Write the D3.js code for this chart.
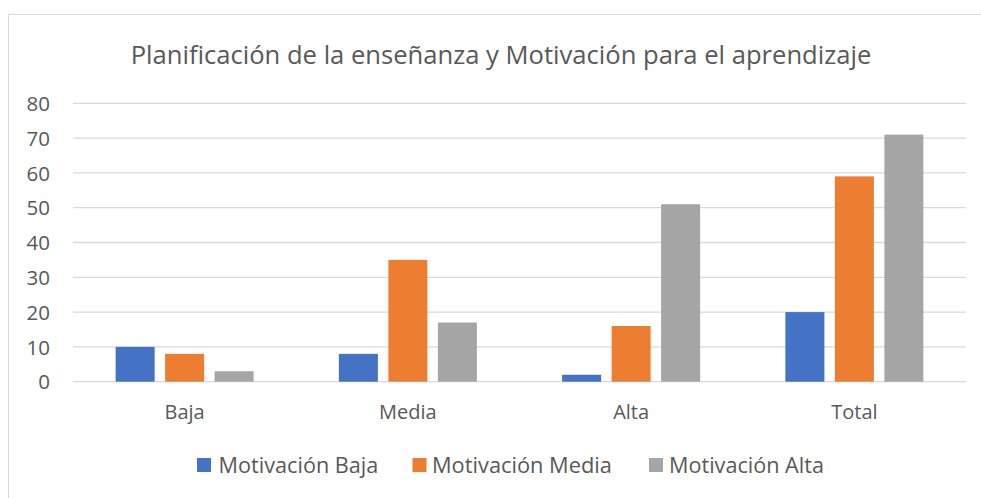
<!DOCTYPE html>
<html><head><meta charset="utf-8">
<script src="https://cdn.jsdelivr.net/npm/d3@7"></script>
<style>html,body{margin:0;padding:0;background:#fff;}svg{display:block;}</style>
</head><body>
<script>
const title = "Planificación de la enseñanza y Motivación para el aprendizaje";
const categories = ["Baja", "Media", "Alta", "Total"];
const seriesNames = ["Motivación Baja", "Motivación Media", "Motivación Alta"];
const motivacionBaja  = [10, 8, 2, 20];
const motivacionMedia = [8, 35, 16, 59];
const motivacionAlta  = [3, 17, 51, 71];
const yTicks = [0, 10, 20, 30, 40, 50, 60, 70, 80];
const colors = ["#4472C4", "#ED7D31", "#A5A5A5"];

const seriesValues = [motivacionBaja, motivacionMedia, motivacionAlta];
const W = 981, H = 498;
const FONT = "'Open Sans', 'Noto Sans', sans-serif";
const TXT = "#595959";

const svg = d3.select("body").append("svg").attr("width", W).attr("height", H);
svg.append("rect").attr("x", 8.5).attr("y", 14.5).attr("width", 1000).attr("height", 600)
  .attr("fill", "#fff").attr("stroke", "#d9d9d9").attr("stroke-width", 1);

const x0 = d3.scaleBand().domain(categories).range([73, 966]).paddingInner(0).paddingOuter(0);
const x1 = d3.scaleBand().domain(seriesNames).range([0, x0.bandwidth()]).paddingInner(0.212).paddingOuter(0.861);
const y = d3.scaleLinear().domain([0, 80]).range([381.7, 103.3]);

function fit(sel, target, base) {
  sel.attr("font-size", base);
  const w = sel.node().getComputedTextLength();
  sel.attr("font-size", base * target / w);
}

svg.append("g").selectAll("line").data(yTicks).join("line")
  .attr("x1", 73).attr("x2", 966)
  .attr("y1", d => y(d)).attr("y2", d => y(d))
  .attr("stroke", "#d9d9d9").attr("stroke-width", 1.3);

const yAxis = svg.append("g").attr("transform", "translate(50,0)")
  .call(d3.axisLeft(y).tickValues(yTicks).tickSize(0).tickPadding(0));
yAxis.select(".domain").remove();
yAxis.selectAll("text").attr("font-family", FONT).attr("font-size", 20.5).attr("fill", TXT).attr("dy", "0.35em");

categories.forEach((c, ci) => {
  seriesNames.forEach((s, si) => {
    const v = seriesValues[si][ci];
    svg.append("rect")
      .attr("x", x0(c) + x1(s)).attr("width", x1.bandwidth())
      .attr("y", y(v)).attr("height", y(0) - y(v))
      .attr("fill", colors[si]);
  });
});

const xAxis = svg.append("g").attr("transform", "translate(0,412)")
  .call(d3.axisBottom(x0).tickSize(0).tickPadding(0));
xAxis.select(".domain").remove();
xAxis.selectAll("text").attr("font-family", FONT).attr("font-size", 20).attr("fill", TXT).attr("dy", "0.35em");

const t = svg.append("text").attr("x", 501).attr("y", 55).attr("text-anchor", "middle")
  .attr("dy", "0.35em").attr("font-family", FONT).attr("fill", TXT).text(title);
fit(t, 741, 26);

const legendPos = [[197, 218.5, 160], [412.5, 432, 180], [649, 669, 155]];
seriesNames.forEach((s, i) => {
  const [sx, tx, tw] = legendPos[i];
  svg.append("rect").attr("x", sx).attr("y", 458).attr("width", 14).attr("height", 14).attr("fill", colors[i]);
  const lt = svg.append("text").attr("x", tx).attr("y", 465).attr("dy", "0.35em")
    .attr("font-family", FONT).attr("fill", TXT).text(s);
  fit(lt, tw, 19);
});
</script>
</body></html>
